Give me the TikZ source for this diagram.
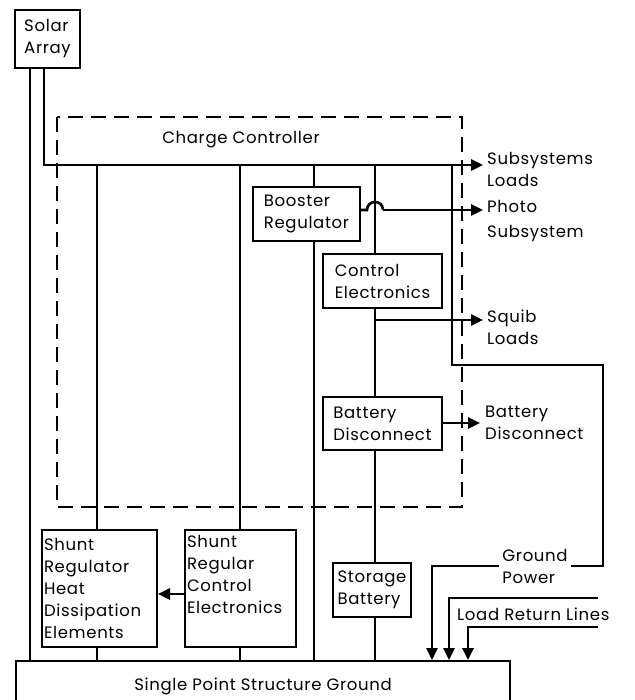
\documentclass[tikz,border=0pt]{standalone}
\usepackage{fontspec}
\setmainfont{Poppins}[LetterSpace=4]
\usetikzlibrary{arrows.meta}
\newcommand\lbl{\fontsize{16.5}{22}\selectfont}
\begin{document}
\begin{tikzpicture}[x=1pt,y=-1pt,
  line/.style={line width=2.6pt},
  box/.style={draw,line width=2pt,rectangle,inner sep=3pt,align=left,font=\lbl,anchor=center},
  arr/.style={line,-{Triangle[length=12pt,width=11pt]}},
  lab/.style={align=left,font=\lbl,inner sep=0pt},
  dashbox/.style={line width=2.6pt,dash pattern=on 15pt off 8pt}
]
\useasboundingbox (0,0) rectangle (634,700);
% boxes
\node[box,minimum width=65pt,minimum height=58pt] (solar) at (47.5,39) {Solar\\Array};
\node[box,minimum width=107pt,minimum height=54pt] (booster) at (306.5,214) {Booster\\Regulator};
\node[box,minimum width=119pt,minimum height=54pt] (control) at (382.5,281) {Control\\Electronics};
\node[box,minimum width=119pt,minimum height=53pt] (battdisc) at (382.5,423.5) {Battery\\Disconnect};
\node[box,minimum width=78pt,minimum height=54pt] (storage) at (372,590) {Storage\\Battery};
\node[box,minimum width=115pt,minimum height=117pt,text width=111pt,inner xsep=2pt] (shuntheat) at (99.5,588.5) {Shunt\\Regulator\\Heat\\Dissipation\\Elements};
\node[box,minimum width=111pt,minimum height=117pt,text width=107pt,inner xsep=2pt] (shuntctrl) at (240.5,588.5) {Shunt\\Regular\\Control\\Electronics\\\strut};
\node[box,minimum width=494pt,minimum height=50pt,align=center,anchor=north west] (ground) at (15,660) {Single Point Structure Ground};
% dashed charge controller
\draw[dashbox] (57,117) rectangle (462,507);
\node[lab] (cc) at (241,140) {Charge Controller};
% labels
\node[lab,anchor=west] (subs) at (487,169) {Subsystems\\Loads};
\node[lab,anchor=north west,align=left] (photo) at (487,200) {Photo\\[3pt]Subsystem};
\node[lab,anchor=west] (squib) at (487,327) {Squib\\Loads};
\node[lab,anchor=west] (bdlab) at (485,423) {Battery\\Disconnect};
\node[lab,anchor=center,fill=white,inner xsep=3pt] (gp) at (535,566) {Ground\\Power};
\node[lab,anchor=west] (lrl) at (457,614) {Load Return Lines};
% coordinates
\coordinate (subsT) at (483,165);
\coordinate (photoT) at (483,210);
\coordinate (squibT) at (483,320);
\coordinate (bdT) at (480,423);
\coordinate (j44) at (44,165);
\coordinate (j452) at (452,165);
\coordinate (c1) at (452,365);
\coordinate (c2) at (603,365);
\coordinate (c3) at (603,566);
\coordinate (g1) at (432,566);
\coordinate (lr1) at (598,598);
\coordinate (lr2) at (598,627);
% solar lines
\draw[line] (solar.south -| 30,0) -- (ground.north -| 30,0);
\draw[arr] (solar.south -| 44,0) -- (j44) -- (subsT);
% bus drops
\draw[line] (97,165) -- (shuntheat.north -| 97,0);
\draw[line] (240,165) -- (shuntctrl.north -| 240,0);
\draw[line] (314,165) -- (booster.north -| 314,0);
\draw[line] (375,165) -- (control.north -| 375,0);
\draw[line] (j452) -- (c1) -- (c2) -- (c3) -- (gp.east |- c3);
\draw[arr] (gp.west |- g1) -- (g1) -- (ground.north -| g1);
% photo line with hop
\draw[line] (booster.east |- photoT) -- (367,210) .. controls (367,199.3) and (383,199.3) .. (383,210);
\draw[arr] (383,210) -- (photoT);
% booster to ground
\draw[line] (booster.south -| 314,0) -- (ground.north -| 314,0);
% control chain
\draw[line] (control.south -| 375,0) -- (battdisc.north -| 375,0);
\draw[arr] (375,320) -- (squibT);
\draw[arr] (battdisc.east |- bdT) -- (bdT);
\draw[line] (battdisc.south -| 375,0) -- (storage.north -| 375,0);
\draw[line] (storage.south -| 375,0) -- (ground.north -| 375,0);
% shunt
\draw[arr] (shuntctrl.west |- 0,594) -- (shuntheat.east |- 0,594);
\draw[line] (shuntheat.south -| 97,0) -- (ground.north -| 97,0);
\draw[line] (shuntctrl.south -| 240,0) -- (ground.north -| 240,0);
% load return lines
\draw[arr] (lr1) -- (449,598) -- (ground.north -| 449,0);
\draw[arr] (lr2) -- (468,627) -- (ground.north -| 468,0);
\end{tikzpicture}
\end{document}
